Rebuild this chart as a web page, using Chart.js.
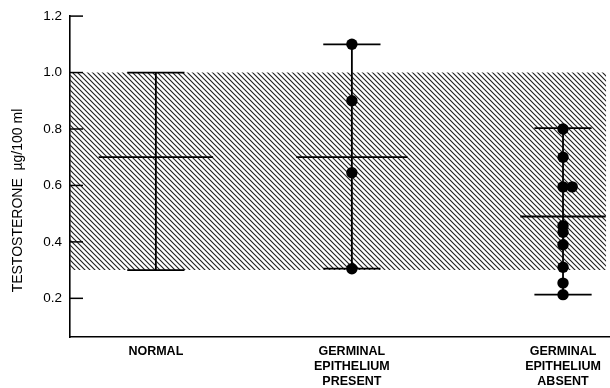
<!DOCTYPE html>
<html>
<head>
<meta charset="utf-8">
<script src="https://cdn.jsdelivr.net/npm/chart.js@4/dist/chart.umd.min.js"></script>
<style>
  html, body { margin: 0; padding: 0; background: #ffffff; }
  #wrap { width: 610px; height: 388px; }
</style>
</head>
<body>
<div id="wrap"><canvas id="c" width="610" height="388"></canvas></div>
<script>
// ---------------- DATA ----------------
const categoryLabels = [
  ['NORMAL'],
  ['GERMINAL', 'EPITHELIUM', 'PRESENT'],
  ['GERMINAL', 'EPITHELIUM', 'ABSENT']
];
const rangeLow  = [0.30, 0.305, 0.213];
const rangeHigh = [1.00, 1.10, 0.803];
const groupMean = [0.70, 0.70, 0.49];
const presentValues = [1.10, 0.90, 0.645, 0.305];
const absentValues  = [0.80, 0.70, 0.595, 0.595, 0.457, 0.434, 0.39, 0.31, 0.254, 0.213];
const normalBand = [0.30, 1.00];
const yTicks = [0.2, 0.4, 0.6, 0.8, 1.0, 1.2];
const yTitle = 'TESTOSTERONE  \u00b5g/100 ml';

// ---------------- LAYOUT / STYLE ----------------
const categoryX = [15.9, 52.2, 91.3];      // horizontal placement of groups (axis units)
const capHalf = 5.3;
const meanHalf = [10.6, 10.3, 7.9];
const bandEndX = 99.3;
const jitterIndex = 3, jitterDx = 1.7;
const FONT = '"Liberation Sans", Arial, Helvetica, sans-serif';

function hatchPattern() {
  const t = document.createElement('canvas');
  t.width = 5; t.height = 5;
  const g = t.getContext('2d');
  g.strokeStyle = '#222';
  g.lineWidth = 1.15;
  g.beginPath();
  g.moveTo(-1, -1); g.lineTo(6, 6);
  g.moveTo(-1, 4); g.lineTo(1, 6);
  g.moveTo(4, -1); g.lineTo(6, 1);
  g.stroke();
  return document.getElementById('c').getContext('2d').createPattern(t, 'repeat');
}

const rangePts = [], capPts = [], meanPts = [];
categoryX.forEach((cx, i) => {
  rangePts.push({x: cx, y: rangeLow[i]}, {x: cx, y: rangeHigh[i]}, {x: cx, y: null});
  capPts.push({x: cx - capHalf, y: rangeHigh[i]}, {x: cx + capHalf, y: rangeHigh[i]}, {x: cx, y: null});
  capPts.push({x: cx - capHalf, y: rangeLow[i]}, {x: cx + capHalf, y: rangeLow[i]}, {x: cx, y: null});
  meanPts.push({x: cx - meanHalf[i], y: groupMean[i]}, {x: cx + meanHalf[i], y: groupMean[i]}, {x: cx, y: null});
});
const presentPts = presentValues.map(v => ({x: categoryX[1], y: v}));
const absentPts = absentValues.map((v, i) => ({x: categoryX[2] + (i === jitterIndex ? jitterDx : 0), y: v}));

const lineStyle = {showLine: true, borderColor: '#000', borderWidth: 1.8, pointRadius: 0, spanGaps: false, fill: false, order: 5};

const innerTicks = {
  id: 'innerTicks',
  afterDatasetsDraw(chart) {
    const {ctx, chartArea, scales} = chart;
    ctx.save();
    ctx.strokeStyle = '#000';
    ctx.lineWidth = 1.5;
    yTicks.forEach(v => {
      const y = scales.y.getPixelForValue(v);
      ctx.beginPath();
      ctx.moveTo(chartArea.left, y);
      ctx.lineTo(chartArea.left + 13, y);
      ctx.stroke();
    });
    ctx.restore();
  }
};
const yTitlePlugin = {
  id: 'yTitlePlugin',
  afterDraw(chart) {
    const ctx = chart.ctx;
    const y = chart.scales.y;
    ctx.save();
    ctx.translate(18, (y.top + y.bottom) / 2 + 24);
    ctx.rotate(-Math.PI / 2);
    ctx.textAlign = 'center';
    ctx.textBaseline = 'middle';
    ctx.fillStyle = '#000';
    ctx.font = '14px ' + FONT;
    ctx.fillText(yTitle, 0, 0);
    ctx.restore();
  }
};

new Chart(document.getElementById('c'), {
  type: 'scatter',
  data: {
    datasets: [
      {
        type: 'line',
        data: [{x: 0, y: normalBand[1]}, {x: bandEndX, y: normalBand[1]}],
        fill: {value: normalBand[0]},
        backgroundColor: hatchPattern(),
        borderWidth: 0,
        pointRadius: 0,
        order: 10
      },
      Object.assign({data: rangePts}, lineStyle),
      Object.assign({data: capPts}, lineStyle),
      Object.assign({data: meanPts}, lineStyle),
      {data: presentPts, pointRadius: 5.7, backgroundColor: '#000', borderColor: '#000', borderWidth: 0, order: 1},
      {data: absentPts, pointRadius: 5.7, backgroundColor: '#000', borderColor: '#000', borderWidth: 0, order: 1}
    ]
  },
  options: {
    responsive: false,
    animation: false,
    layout: {autoPadding: false, padding: {top: 14, right: 0, bottom: 0, left: 0}},
    plugins: {legend: {display: false}, tooltip: {enabled: false}},
    scales: {
      x: {
        type: 'linear',
        min: 0, max: 100,
        afterBuildTicks: s => { s.ticks = categoryX.map(v => ({value: v})); },
        afterFit: s => { s.height = 51; },
        ticks: {
          callback: (v, i) => categoryLabels[i],
          autoSkip: false, maxRotation: 0, padding: 7,
          color: '#000', font: {family: FONT, size: 12.5, weight: 'bold'}
        },
        grid: {display: false, drawTicks: false},
        border: {display: true, color: '#000', width: 1.6}
      },
      y: {
        type: 'linear',
        min: 0.063, max: 1.2,
        afterBuildTicks: s => { s.ticks = yTicks.map(v => ({value: v})); },
        afterFit: s => { s.width = 70; },
        ticks: {
          callback: v => v.toFixed(1),
          padding: 8,
          color: '#000', font: {family: FONT, size: 13.5}
        },
        grid: {display: false, drawTicks: false},
        border: {display: true, color: '#000', width: 1.6}
      }
    }
  },
  plugins: [innerTicks, yTitlePlugin]
});
</script>
</body>
</html>
